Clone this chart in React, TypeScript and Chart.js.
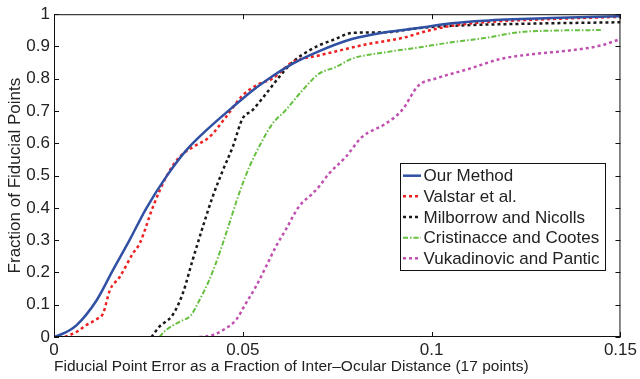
import React, { useEffect, useRef } from "react";
import { Chart, registerables } from "chart.js";

Chart.register(...registerables);

const ourX = [0, 0.0025, 0.006, 0.0113, 0.0156, 0.02, 0.0244, 0.0297, 0.035, 0.0403, 0.0473, 0.0525, 0.0561, 0.0631, 0.0701, 0.0789, 0.0877, 0.0965, 0.1053, 0.114, 0.1316, 0.15];
const ourY = [0, 0.011, 0.037, 0.114, 0.207, 0.3, 0.398, 0.496, 0.578, 0.64, 0.712, 0.763, 0.794, 0.846, 0.885, 0.923, 0.944, 0.957, 0.972, 0.98, 0.988, 0.994];

const valstarX = [0.0029, 0.006, 0.0086, 0.0113, 0.013, 0.0148, 0.0174, 0.0209, 0.0227, 0.0262, 0.0297, 0.0332, 0.0367, 0.0411, 0.0455, 0.0499, 0.0543, 0.0578, 0.0631, 0.0701, 0.0754, 0.0833, 0.0921, 0.0991, 0.1053, 0.114, 0.1316, 0.15];
const valstarY = [0, 0.016, 0.037, 0.055, 0.073, 0.145, 0.186, 0.259, 0.29, 0.403, 0.496, 0.557, 0.588, 0.619, 0.681, 0.748, 0.784, 0.8, 0.851, 0.872, 0.887, 0.908, 0.926, 0.949, 0.964, 0.975, 0.985, 0.992];

const milborrowX = [0.0258, 0.0279, 0.0314, 0.0341, 0.0367, 0.0394, 0.042, 0.0447, 0.0473, 0.0499, 0.0525, 0.0561, 0.0596, 0.0631, 0.0675, 0.0701, 0.0745, 0.0789, 0.0877, 0.0965, 0.1053, 0.1229, 0.15];
const milborrowY = [0, 0.032, 0.068, 0.135, 0.238, 0.341, 0.434, 0.516, 0.588, 0.676, 0.702, 0.753, 0.805, 0.851, 0.887, 0.903, 0.923, 0.942, 0.944, 0.957, 0.964, 0.97, 0.975];

const cristinacceX = [0.0279, 0.0297, 0.0332, 0.0363, 0.0385, 0.0411, 0.0438, 0.0464, 0.049, 0.0517, 0.0552, 0.0578, 0.0613, 0.0657, 0.0701, 0.0745, 0.0789, 0.0877, 0.0965, 0.1053, 0.114, 0.1229, 0.1316, 0.1448];
const cristinacceY = [0, 0.022, 0.047, 0.068, 0.114, 0.176, 0.259, 0.351, 0.444, 0.526, 0.609, 0.66, 0.702, 0.763, 0.815, 0.836, 0.862, 0.882, 0.897, 0.913, 0.926, 0.944, 0.949, 0.951];

const vukadinovicX = [0.0385, 0.042, 0.0455, 0.0482, 0.0508, 0.0534, 0.0561, 0.0587, 0.0613, 0.0648, 0.0684, 0.0701, 0.0728, 0.0772, 0.0815, 0.0877, 0.0921, 0.0965, 0.1009, 0.1097, 0.1185, 0.1273, 0.136, 0.1448, 0.15];
const vukadinovicY = [0, 0.006, 0.027, 0.053, 0.104, 0.155, 0.217, 0.279, 0.331, 0.403, 0.444, 0.465, 0.506, 0.557, 0.619, 0.66, 0.702, 0.779, 0.8, 0.83, 0.862, 0.877, 0.887, 0.903, 0.923];

const seriesLabels = ["Our Method", "Valstar et al.", "Milborrow and Nicolls", "Cristinacce and Cootes", "Vukadinovic and Pantic"];

const xTicks = [0, 0.05, 0.1, 0.15];
const yTicks = [0, 0.1, 0.2, 0.3, 0.4, 0.5, 0.6, 0.7, 0.8, 0.9, 1];

const FONT = "'Liberation Sans', Arial, Helvetica, sans-serif";
const TEXT = "#222222";

function pts(xs: number[], ys: number[]) {
  return xs.map((x, i) => ({ x, y: ys[i] }));
}

const boxPlugin = {
  id: "matlabBox",
  afterDatasetsDraw(chart: any) {
    const { ctx, chartArea, scales } = chart;
    const { left, right, top, bottom } = chartArea;
    ctx.save();
    ctx.strokeStyle = "#111";
    ctx.lineWidth = 1;
    ctx.setLineDash([]);
    ctx.strokeRect(left + 0.5, top + 0.5, right - left - 1, bottom - top - 1);
    const tl = 5;
    ctx.beginPath();
    scales.x.ticks.forEach((t: any) => {
      const px = Math.round(scales.x.getPixelForValue(t.value)) + 0.5;
      ctx.moveTo(px, bottom);
      ctx.lineTo(px, bottom - tl);
      ctx.moveTo(px, top);
      ctx.lineTo(px, top + tl);
    });
    scales.y.ticks.forEach((t: any) => {
      const py = Math.round(scales.y.getPixelForValue(t.value)) + 0.5;
      ctx.moveTo(left, py);
      ctx.lineTo(left + tl, py);
      ctx.moveTo(right, py);
      ctx.lineTo(right - tl, py);
    });
    ctx.stroke();

    // legend
    const lx = 400.5, ly = 163.5, lw = 205, lh = 107;
    ctx.fillStyle = "#fff";
    ctx.fillRect(lx, ly, lw, lh);
    ctx.strokeStyle = "#111";
    ctx.strokeRect(lx, ly, lw, lh);
    ctx.font = `17px ${FONT}`;
    ctx.textBaseline = "middle";
    ctx.textAlign = "left";
    chart.data.datasets.forEach((ds: any, i: number) => {
      const y = 175.7 + i * 20.65;
      ctx.strokeStyle = ds.borderColor;
      ctx.lineWidth = ds.borderWidth;
      ctx.setLineDash(ds.borderDash || []);
      ctx.beginPath();
      ctx.moveTo(403, y);
      ctx.lineTo(421, y);
      ctx.stroke();
      ctx.fillStyle = TEXT;
      ctx.fillText(ds.label, 423.5, y + 1);
    });
    ctx.restore();
  },
};

export default function App() {
  const ref = useRef<HTMLCanvasElement>(null);
  useEffect(() => {
    document.body.style.margin = "0";
    const chart = new Chart(ref.current!, {
      type: "line",
      data: {
        datasets: [
          { label: seriesLabels[0], data: pts(ourX, ourY), borderColor: "#3050a4", borderWidth: 2.5 },
          { label: seriesLabels[1], data: pts(valstarX, valstarY), borderColor: "#ee2020", borderWidth: 2.5, borderDash: [3, 3] },
          { label: seriesLabels[2], data: pts(milborrowX, milborrowY), borderColor: "#1a1a1a", borderWidth: 2.5, borderDash: [3, 3] },
          { label: seriesLabels[3], data: pts(cristinacceX, cristinacceY), borderColor: "#66c040", borderWidth: 2, borderDash: [5, 2, 1.5, 2] },
          { label: seriesLabels[4], data: pts(vukadinovicX, vukadinovicY), borderColor: "#c050b0", borderWidth: 2.5, borderDash: [3, 3] },
        ],
      } as any,
      options: {
        animation: false,
        responsive: false,
        maintainAspectRatio: false,
        layout: { padding: { left: 0, top: 13, right: 16, bottom: 0 } },
        elements: { point: { radius: 0 }, line: { cubicInterpolationMode: "monotone", fill: false } },
        plugins: { legend: { display: false }, tooltip: { enabled: false } },
        scales: {
          x: {
            type: "linear",
            min: 0,
            max: 0.15,
            afterBuildTicks: (s: any) => { s.ticks = xTicks.map((v) => ({ value: v })); },
            afterFit: (s: any) => { s.height = 42; },
            grid: { display: false, drawTicks: false },
            border: { display: false },
            ticks: {
              autoSkip: false,
              maxRotation: 0,
              padding: 3,
              color: TEXT,
              font: { family: FONT, size: 17 },
              callback: (v: any) => String(+Number(v).toFixed(3)),
            },
            title: {
              display: true,
              text: "Fiducial Point Error as a Fraction of Inter–Ocular Distance (17 points)",
              align: "start",
              color: TEXT,
              font: { family: FONT, size: 15.5 },
              padding: { top: 0, bottom: 3 },
            },
          },
          y: {
            type: "linear",
            min: 0,
            max: 1,
            afterBuildTicks: (s: any) => { s.ticks = yTicks.map((v) => ({ value: v })); },
            afterFit: (s: any) => { s.width = 54; },
            grid: { display: false, drawTicks: false },
            border: { display: false },
            ticks: {
              autoSkip: false,
              padding: 4,
              color: TEXT,
              font: { family: FONT, size: 17 },
              callback: (v: any) => String(+Number(v).toFixed(2)),
            },
            title: {
              display: true,
              text: "Fraction of Fiducial Points",
              color: TEXT,
              font: { family: FONT, size: 17 },
              padding: { top: 5, bottom: 0 },
            },
          },
        },
      } as any,
      plugins: [boxPlugin],
    });
    return () => chart.destroy();
  }, []);
  return (
    <div style={{ width: 640, height: 379, position: "relative" }}>
      <canvas ref={ref} width={640} height={379} />
    </div>
  );
}
